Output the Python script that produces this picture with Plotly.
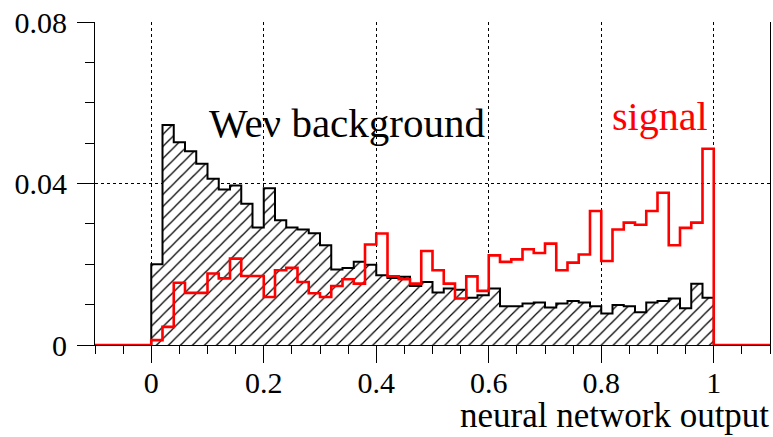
import numpy as np
import plotly.graph_objects as go

# 50 bins of width 0.02 from 0 to 1
bin_lo, bin_hi, n_bins = 0.0, 1.0, 50

background = [0.0200, 0.0545, 0.0502, 0.0480, 0.0449, 0.0412, 0.0385, 0.0395, 0.0350, 0.0291,
              0.0388, 0.0309, 0.0291, 0.0286, 0.0277, 0.0247, 0.0187, 0.0191, 0.0206, 0.0199,
              0.0173, 0.0166, 0.0169, 0.0146, 0.0156, 0.0130, 0.0140, 0.0137, 0.0117, 0.0123,
              0.0140, 0.0096, 0.0096, 0.0103, 0.0105, 0.0093, 0.0103, 0.0109, 0.0105, 0.0096,
              0.0078, 0.0099, 0.0096, 0.0081, 0.0105, 0.0109, 0.0115, 0.0091, 0.0152, 0.0117]

signal = [0.0012, 0.0045, 0.0154, 0.0129, 0.0129, 0.0177, 0.0165, 0.0214, 0.0171, 0.0171,
          0.0119, 0.0185, 0.0191, 0.0156, 0.0128, 0.0119, 0.0146, 0.0163, 0.0152, 0.0249,
          0.0276, 0.0170, 0.0163, 0.0152, 0.0233, 0.0185, 0.0152, 0.0115, 0.0170, 0.0134,
          0.0222, 0.0206, 0.0212, 0.0237, 0.0228, 0.0251, 0.0185, 0.0204, 0.0224, 0.0332,
          0.0208, 0.0286, 0.0303, 0.0298, 0.0332, 0.0377, 0.0247, 0.0290, 0.0303, 0.0486]

x_range = [-0.1, 1.1]
y_range = [0, 0.08]
x_ticks = [0, 0.2, 0.4, 0.6, 0.8, 1]
x_ticklabels = ["0", "0.2", "0.4", "0.6", "0.8", "1"]
y_ticks = [0, 0.04, 0.08]
y_ticklabels = ["0", "0.04", "0.08"]

edges = np.linspace(bin_lo, bin_hi, n_bins + 1)

# background step outline (closed to zero at both ends)
bx = [edges[0]] + list(edges[:-1]) + [edges[-1], edges[-1]]
by = [0] + list(background) + [background[-1], 0]

# signal step line over the full x range
sx = [x_range[0]] + list(edges[:-1]) + [edges[-1], x_range[1]]
sy = [0] + list(signal) + [0, 0]

SERIF = "Liberation Serif, Times New Roman, serif"

fig = go.Figure()
fig.add_trace(go.Scatter(
    x=bx, y=by, mode="lines", line_shape="hv",
    line=dict(color="black", width=2),
    fill="tozeroy",
    fillpattern=dict(shape="/", fgcolor="black", fgopacity=1, bgcolor="white",
                     size=8.5, solidity=0.15),
    hoverinfo="skip", showlegend=False))
fig.add_trace(go.Scatter(
    x=sx, y=sy, mode="lines", line_shape="hv",
    line=dict(color="red", width=2.6),
    cliponaxis=False, hoverinfo="skip", showlegend=False))

fig.update_xaxes(
    range=x_range, tickvals=x_ticks, ticktext=x_ticklabels, automargin=False,
    ticks="outside", ticklen=17, tickwidth=1, tickcolor="black", ticklabelstandoff=-6,
    minor=dict(dtick=0.05, tick0=0, ticks="outside", ticklen=8, tickcolor="black", showgrid=False),
    showline=True, linecolor="black", linewidth=1,
    showgrid=True, gridcolor="black", griddash="dot", gridwidth=1,
    zeroline=False, tickfont=dict(family=SERIF, size=30, color="black"))
fig.update_yaxes(
    range=y_range, tickvals=y_ticks, ticktext=y_ticklabels, automargin=False,
    ticks="outside", ticklen=17, tickwidth=1, tickcolor="black", ticklabelstandoff=4,
    minor=dict(dtick=0.01, tick0=0, ticks="outside", ticklen=9, tickcolor="black", showgrid=False),
    showline=True, linecolor="black", linewidth=1, mirror=True,
    showgrid=True, gridcolor="black", griddash="dot", gridwidth=1,
    zeroline=False, tickfont=dict(family=SERIF, size=30, color="black"))

fig.add_annotation(text="Weν background", xref="paper", yref="paper",
                   x=(347 - 95) / 675, y=(345 - 123) / 323, xanchor="center", yanchor="middle",
                   showarrow=False, font=dict(family=SERIF, size=41, color="black"))
fig.add_annotation(text="signal", xref="paper", yref="paper",
                   x=(660 - 95) / 675, y=(345 - 117) / 323, xanchor="center", yanchor="middle",
                   showarrow=False, font=dict(family=SERIF, size=40, color="red"))
fig.add_annotation(text="neural network output", xref="paper", yref="paper",
                   x=1, xanchor="right", y=0, yanchor="top", yshift=-50, borderpad=0,
                   showarrow=False, font=dict(family=SERIF, size=35, color="black"))

fig.update_layout(
    width=773, height=437,
    margin=dict(l=95, r=3, t=22, b=92),
    paper_bgcolor="white", plot_bgcolor="white")

fig.write_html("out.html", config={"displayModeBar": False},
               post_script="document.body.style.margin='0';document.body.style.overflow='hidden';")
